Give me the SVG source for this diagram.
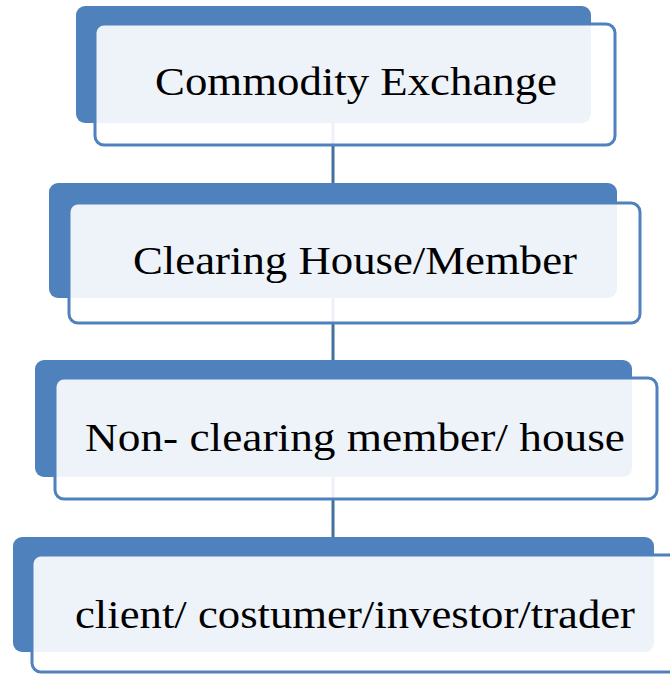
<svg xmlns="http://www.w3.org/2000/svg" width="670" height="675" viewBox="0 0 670 675">
  <style>
    .back { fill: #4F81BD; }
    .front { fill: #FFFFFF; fill-opacity: 0.9; stroke: #4F81BD; stroke-width: 3; }
    .label { font-family: "Liberation Serif", "Times New Roman", serif; font-size: 41px; fill: #000000; }
    .conn { stroke: #41719C; stroke-width: 3; fill: none; }
  </style>
  <rect width="670" height="675" fill="#FFFFFF"/>
  <g id="connectors">
    <line class="conn" x1="333" y1="123" x2="333" y2="183"/>
    <line class="conn" x1="333" y1="298" x2="333" y2="360"/>
    <line class="conn" x1="333" y1="477" x2="333" y2="537"/>
  </g>
  <g id="node-commodity-exchange">
    <rect class="back" x="76" y="6" width="515" height="117" rx="9"/>
    <rect class="front" x="95" y="24" width="520" height="121" rx="9"/>
    <text class="label" x="155" y="95" textLength="402" lengthAdjust="spacingAndGlyphs">Commodity Exchange</text>
  </g>
  <g id="node-clearing-house">
    <rect class="back" x="49" y="183" width="568" height="115" rx="9"/>
    <rect class="front" x="69" y="203" width="571" height="120" rx="9"/>
    <text class="label" x="133" y="274" textLength="444" lengthAdjust="spacingAndGlyphs">Clearing House/Member</text>
  </g>
  <g id="node-non-clearing">
    <rect class="back" x="35" y="360" width="597" height="117" rx="9"/>
    <rect class="front" x="55" y="378" width="602" height="121" rx="9"/>
    <text class="label" x="85" y="451" textLength="540" lengthAdjust="spacingAndGlyphs">Non- clearing member/ house</text>
  </g>
  <g id="node-client">
    <rect class="back" x="13" y="537" width="641" height="115" rx="9"/>
    <rect class="front" x="32" y="555" width="660" height="117" rx="9"/>
    <text class="label" x="75" y="628" textLength="560" lengthAdjust="spacingAndGlyphs">client/ costumer/investor/trader</text>
  </g>
</svg>
